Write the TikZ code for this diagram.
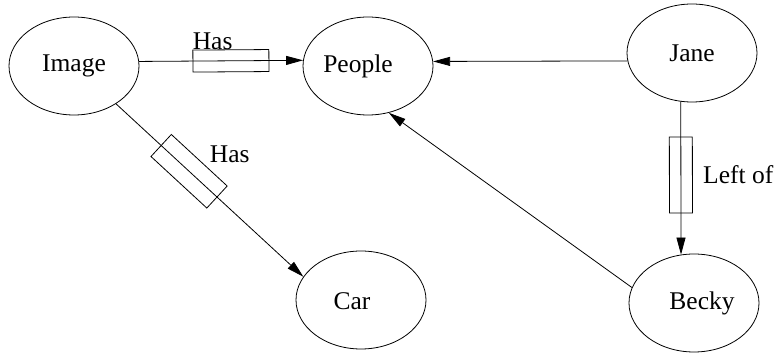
\documentclass[tikz,border=0pt]{standalone}
\usepackage{fontspec}
\setmainfont{Liberation Serif}
\usetikzlibrary{shapes, arrows.meta, positioning}

\begin{document}
\begin{tikzpicture}[x=1pt, y=1pt, line width=0.8pt]
      \tikzstyle{every node}=[font=\fontsize{25.5}{30}\selectfont]
      \tikzstyle{thing}=[ellipse, draw, minimum width=130pt, minimum height=98pt, inner sep=0pt]
      \tikzstyle{thingtext}=[anchor=base, inner sep=0pt]
      \tikzstyle{link}=[-{Triangle[length=17pt, width=9pt]}]
      \tikzstyle{relbox}=[rectangle, draw, sloped, minimum width=76pt, inner sep=0pt]
      \tikzstyle{rel}=[inner sep=0pt]
      \useasboundingbox (0,0) rectangle (777,353);
      % objects
      \node [thing] (image) at (74,287) {};
      \node [thing] (people) at (368,287) {};
      \node [thing] (jane) at (692,300) {};
      \node [thing] (becky) at (694,50) {};
      \node [thing] (car) at (361,53) {};
      \node [thingtext] (imagetext) at ([yshift=-6pt]image.center) {Image};
      \node [thingtext] (peopletext) at ([xshift=-10pt, yshift=-7pt]people.center) {People};
      \node [thingtext] (janetext) at ([yshift=-9pt]jane.center) {Jane};
      \node [thingtext] (beckytext) at ([xshift=8pt, yshift=-7pt]becky.center) {Becky};
      \node [thingtext] (cartext) at ([xshift=-9pt, yshift=-10pt]car.center) {Car};
      % relations
      \draw [link] (image.4) -- node [relbox, pos=0.56, minimum height=22pt] (has1) {} (people.175.6);
      \draw [link] (image.318) -- node [relbox, pos=0.39, minimum height=30pt] (has2) {} (car.158.5);
      \draw [link] (jane.187.1) -- (people.4.4);
      \draw [link] (jane.257.2) -- node [relbox, pos=0.48, minimum height=23pt] (left) {} (becky.105.5);
      \draw [link] (becky.166.4) -- (people.294.2);
      \node [rel, anchor=base west] (has1label) at (has1.north west) {Has};
      \node [rel, anchor=west] (has2label) at ([xshift=10pt, yshift=6pt]has2.north) {Has};
      \node [rel, anchor=west] (leftlabel) at ([xshift=10pt]left.north) {Left of};
\end{tikzpicture}
\end{document}
